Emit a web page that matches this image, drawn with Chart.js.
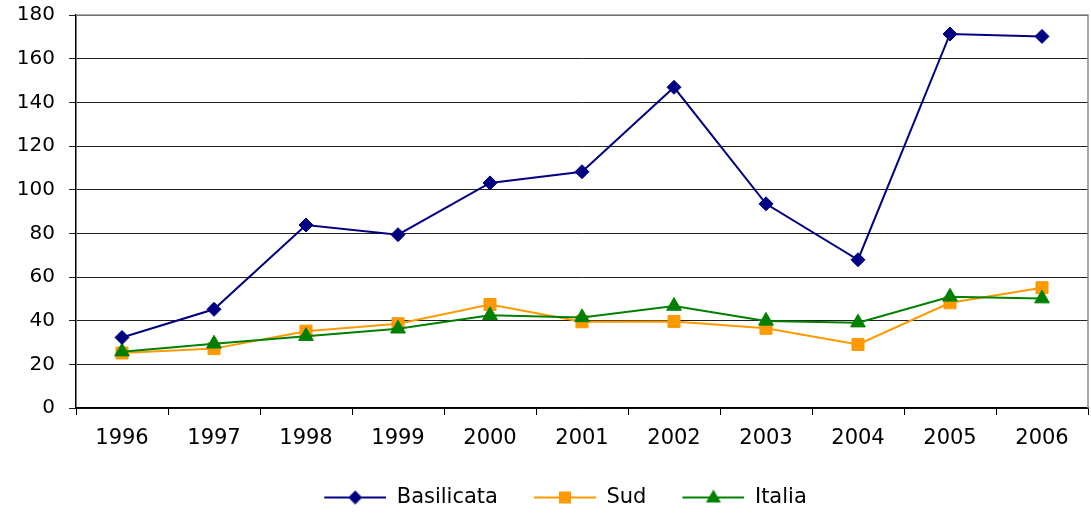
<!DOCTYPE html>
<html>
<head>
<meta charset="utf-8">
<script src="https://cdn.jsdelivr.net/npm/chart.js@4/dist/chart.umd.min.js"></script>
<style>
  html, body { margin: 0; padding: 0; background: #fff; overflow: hidden; }
  #wrap { width: 1091px; height: 513px; }
</style>
</head>
<body>
<div id="wrap"><canvas id="chart" width="1091" height="513"></canvas></div>
<script>
// Basilicata vs Sud vs Italia, 1996-2006
const years = ["1996", "1997", "1998", "1999", "2000", "2001", "2002", "2003", "2004", "2005", "2006"];
const basilicata = [32.3, 45.2, 83.8, 79.4, 103.1, 108.2, 146.9, 93.5, 67.9, 171.3, 170.2];
const sud = [25.2, 27.2, 35.2, 38.6, 47.4, 39.5, 39.6, 36.5, 29.1, 48.2, 55.1];
const italia = [25.8, 29.4, 32.9, 36.3, 42.5, 41.5, 46.7, 39.9, 39.1, 50.9, 50.1];
const yTicks = [0, 20, 40, 60, 80, 100, 120, 140, 160, 180];

const NAVY = "#000080", ORANGE = "#FF9900", GREEN = "#008000";

// legend icon: short line with the series marker in the middle
function legendIcon(color, shape) {
  const c = document.createElement("canvas");
  c.width = 88; c.height = 18;
  const g = c.getContext("2d");
  const cx = 57, cy = 9;
  g.strokeStyle = color; g.fillStyle = color; g.lineWidth = 2;
  g.beginPath(); g.moveTo(26, cy); g.lineTo(88, cy); g.stroke();
  g.beginPath();
  if (shape === "diamond") {
    g.moveTo(cx - 7, cy); g.lineTo(cx, cy - 7); g.lineTo(cx + 7, cy); g.lineTo(cx, cy + 7);
  } else if (shape === "square") {
    g.rect(cx - 6, cy - 6, 12, 12);
  } else {
    g.moveTo(cx, cy - 8); g.lineTo(cx + 7.5, cy + 5); g.lineTo(cx - 7.5, cy + 5);
  }
  g.closePath(); g.fill();
  return c;
}

// top and right frame of the plot area (gray)
const frame = {
  id: "frame",
  beforeDatasetsDraw(chart) {
    const a = chart.chartArea, ctx = chart.ctx;
    ctx.save();
    ctx.strokeStyle = "#8c8c8c"; ctx.lineWidth = 1.5;
    ctx.beginPath();
    ctx.moveTo(a.left, a.top); ctx.lineTo(a.right, a.top); ctx.lineTo(a.right, a.bottom);
    ctx.stroke();
    ctx.restore();
  }
};

Chart.defaults.font.family = "'DejaVu Sans', sans-serif";
Chart.defaults.font.size = 21;
Chart.defaults.color = "#000";

const icons = [legendIcon(NAVY, "diamond"), legendIcon(ORANGE, "square"), legendIcon(GREEN, "triangle")];

new Chart(document.getElementById("chart"), {
  type: "line",
  data: {
    labels: years,
    datasets: [
      { label: "Basilicata", data: basilicata, borderColor: NAVY, backgroundColor: NAVY, borderWidth: 2,
        pointStyle: "rectRot", pointRadius: 7, pointBorderWidth: 1, order: 0 },
      { label: "Sud", data: sud, borderColor: ORANGE, backgroundColor: ORANGE, borderWidth: 2,
        pointStyle: "rect", pointRadius: 8.5, pointBorderWidth: 1, order: 2 },
      { label: "Italia", data: italia, borderColor: GREEN, backgroundColor: GREEN, borderWidth: 2,
        pointStyle: "triangle", pointRadius: 8.5, pointBorderWidth: 1, order: 1 }
    ]
  },
  options: {
    responsive: false, animation: false,
    layout: { autoPadding: false, padding: { left: 17, right: 3, top: 15, bottom: -5 } },
    plugins: {
      tooltip: { enabled: false },
      legend: {
        position: "bottom",
        labels: {
          usePointStyle: true, pointStyleWidth: 88, padding: 10, color: "#000",
          generateLabels: (chart) => chart.data.datasets.map((d, i) => ({
            text: d.label, pointStyle: icons[i], datasetIndex: i,
            fillStyle: d.borderColor, strokeStyle: d.borderColor, lineWidth: 0, hidden: false
          }))
        }
      }
    },
    scales: {
      x: {
        offset: true,
        grid: { offset: true, drawOnChartArea: false, drawTicks: true, tickLength: 7, color: "#000" },
        border: { color: "#000", width: 1.5 },
        ticks: { padding: 11, color: "#000" },
        afterFit: (scale) => { scale.height = 69; scale.paddingLeft = 0; scale.paddingRight = 0; }
      },
      y: {
        min: 0, max: 180,
        afterBuildTicks: (scale) => { scale.ticks = yTicks.map(v => ({ value: v })); },
        grid: { color: "#202020", lineWidth: 1, tickLength: 7 },
        border: { color: "#000", width: 1.5 },
        ticks: { padding: 14, color: "#000", font: { size: 20 } },
        afterFit: (scale) => { scale.width = 59; scale.paddingTop = 0; scale.paddingBottom = 0; }
      }
    }
  },
  plugins: [frame]
});
</script>
</body>
</html>
